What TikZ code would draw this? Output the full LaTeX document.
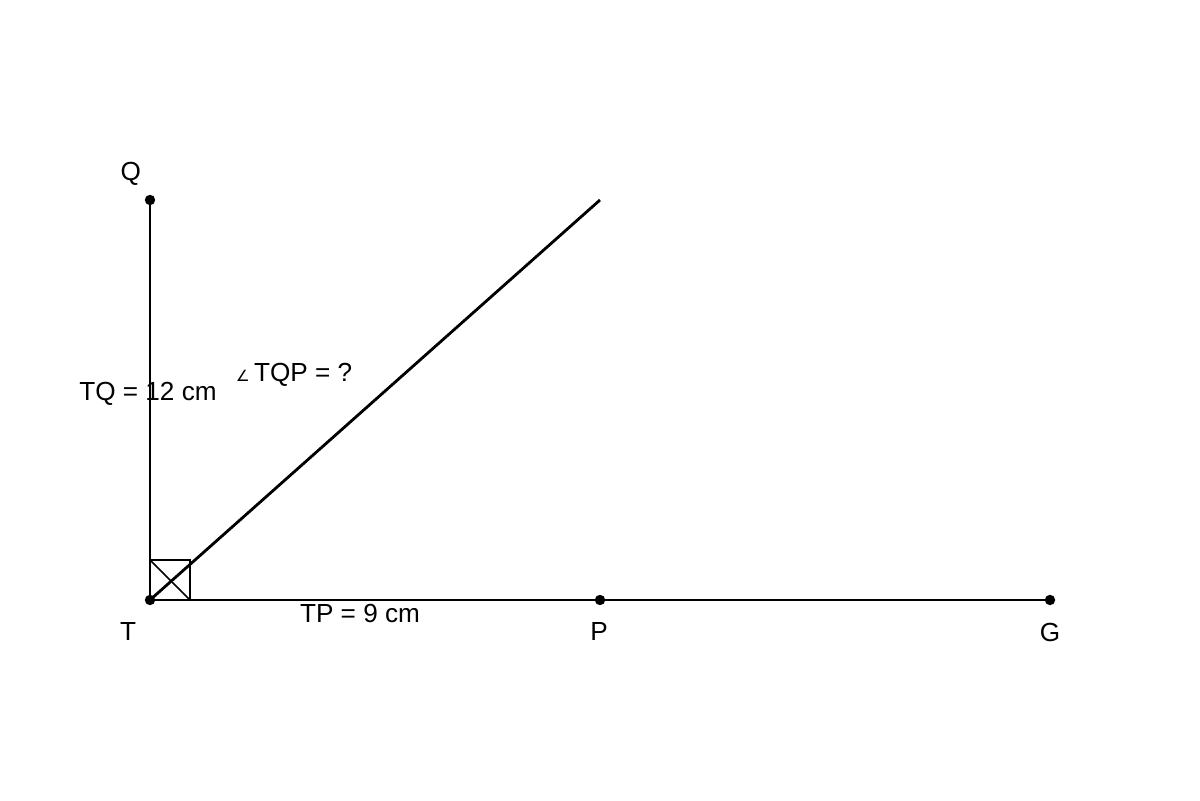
\documentclass[tikz,border=0pt]{standalone}
\usepackage{fontspec}
\setmainfont{Liberation Sans}
\newfontfamily\symfont{DejaVu Sans}
\usepackage{tikz}
\usetikzlibrary{calc}
\tikzset{
    seg/.style={line width=2pt},
    dot/.style={circle, fill, inner sep=0pt, minimum size=0.26cm},
    lbl/.style={font=\fontsize{18.6}{20}\selectfont, inner sep=0pt}
}

\begin{document}
\begin{tikzpicture}
        \useasboundingbox (0,0) rectangle (30,20);

        \coordinate (T) at (3.75,5);
        \coordinate (Q) at (3.75,15);
        \coordinate (P) at (15,5);
        \coordinate (G) at (26.25,5);
        \coordinate (E) at (15,15);

        % the right angle at T
        \draw[line width=1.1pt] (T) rectangle ++(1,1);
        \draw[line width=1.1pt] ($(T)+(0,1)$) -- ($(T)+(1,0)$);

        \draw[seg] (T) -- (Q);
        \draw[seg] (T) -- (G);
        \draw[seg] (T) -- (E);

        \node[dot] (dT) at (T) {};
        \node[dot] (dQ) at (Q) {};
        \node[dot] (dP) at (P) {};
        \node[dot] (dG) at (G) {};

        \draw (3.27,15.66) node[lbl](lQ){Q};
        \draw (3.2,4.2) node[lbl](lT){T};
        \draw (14.98,4.2) node[lbl](lP){P};
        \draw (26.25,4.2) node[lbl](lG){G};

        \draw (3.7,10.15) node[lbl](lTQ){TQ = 12 cm};
        \draw (9,4.66) node[lbl](lTP){TP = 9 cm};
        \draw (7.35,10.63) node[lbl](lang){{\symfont\fontsize{11}{12}\selectfont ∠}\,TQP = ?};
    \end{tikzpicture}
\end{document}
